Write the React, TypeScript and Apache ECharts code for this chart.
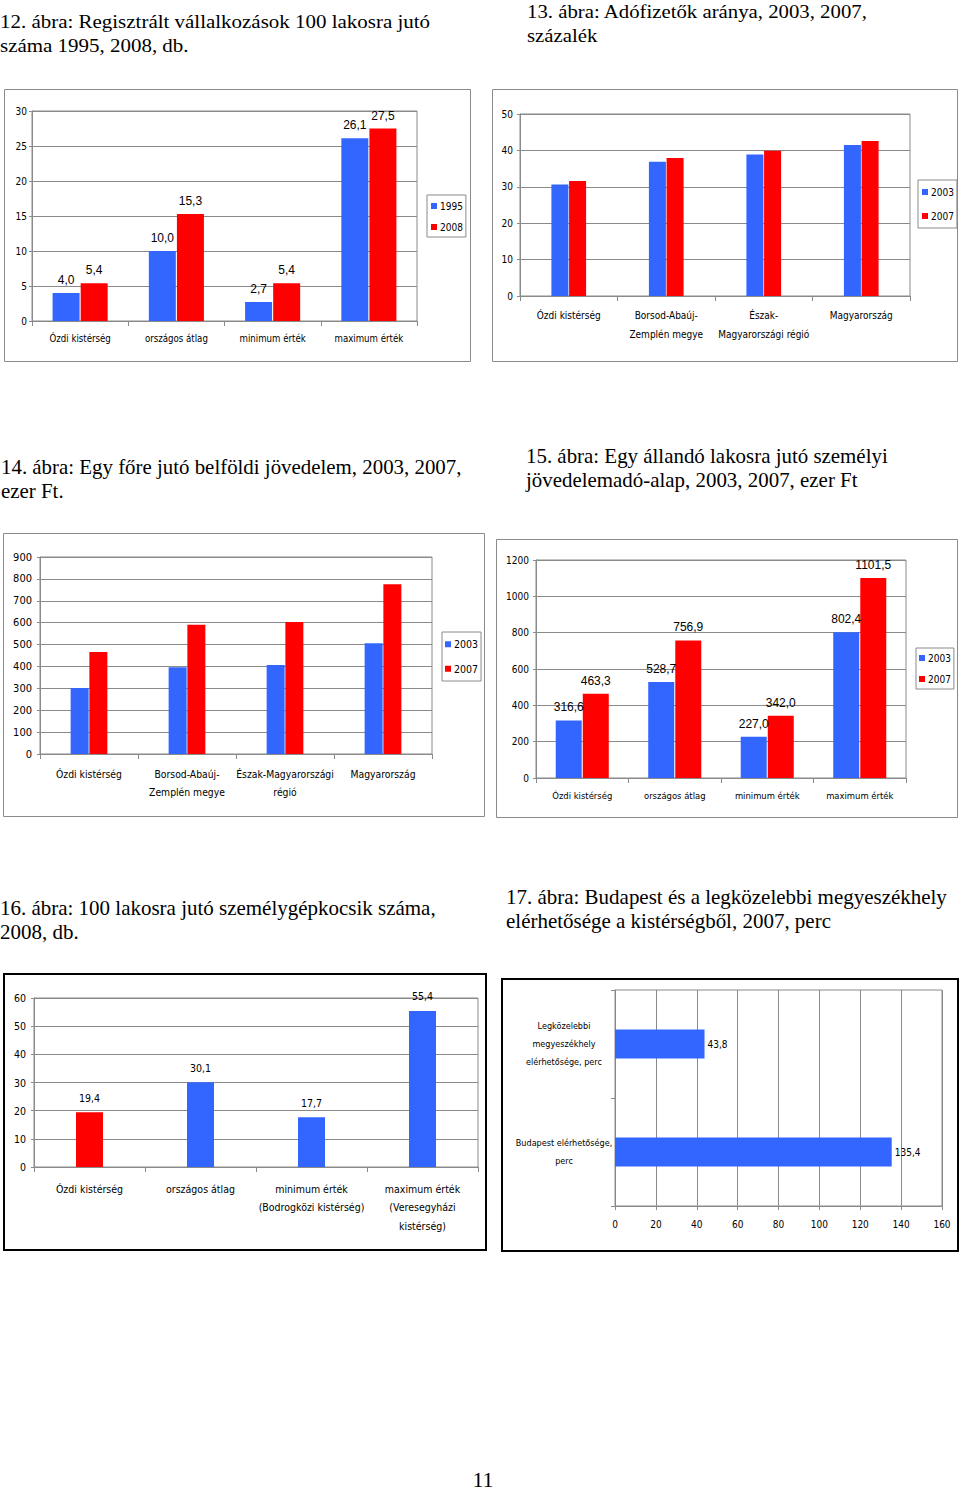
import React, { useEffect, useRef } from 'react';
import * as echarts from 'echarts';

// ---------- data ----------
const c12Categories = ['Ózdi kistérség', 'országos átlag', 'minimum érték', 'maximum érték'];
const c12Values1995 = [4.0, 10.0, 2.7, 26.1];
const c12Values2008 = [5.4, 15.3, 5.4, 27.5];

const c13Categories = ['Ózdi kistérség', 'Borsod-Abaúj-\nZemplén megye', 'Észak-\nMagyarországi régió', 'Magyarország'];
const c13Values2003 = [30.6, 36.9, 38.9, 41.5];
const c13Values2007 = [31.6, 37.9, 39.9, 42.6];

const c14Categories = ['Ózdi kistérség', 'Borsod-Abaúj-\nZemplén megye', 'Észak-Magyarországi\nrégió', 'Magyarország'];
const c14Values2003 = [301, 396, 407, 506];
const c14Values2007 = [466, 591, 603, 775];

const c15Categories = ['Ózdi kistérség', 'országos átlag', 'minimum érték', 'maximum érték'];
const c15Values2003 = [316.6, 528.7, 227.0, 802.4];
const c15Values2007 = [463.3, 756.9, 342.0, 1101.5];

const c16Categories = ['Ózdi kistérség', 'országos átlag', 'minimum érték\n(Bodrogközi kistérség)', 'maximum érték\n(Veresegyházi\nkistérség)'];
const c16Values = [19.4, 30.1, 17.7, 55.4];

const c17Categories = ['Legközelebbi\nmegyeszékhely\nelérhetősége, perc', 'Budapest elérhetősége,\nperc'];
const c17Values = [43.8, 135.4];

const titles12 = ['12. ábra: Regisztrált vállalkozások 100 lakosra jutó', 'száma 1995, 2008, db.'];
const titles13 = ['13. ábra: Adófizetők aránya, 2003, 2007,', 'százalék'];
const titles14 = ['14. ábra: Egy főre jutó belföldi jövedelem, 2003, 2007,', 'ezer Ft.'];
const titles15 = ['15. ábra: Egy állandó lakosra jutó személyi', 'jövedelemadó-alap, 2003, 2007, ezer Ft'];
const titles16 = ['16. ábra: 100 lakosra jutó személygépkocsik száma,', '2008, db.'];
const titles17 = ['17. ábra: Budapest és a legközelebbi megyeszékhely', 'elérhetősége a kistérségből, 2007, perc'];
const pageNumber = '11';

// ---------- styles ----------
const NARROW = '"DejaVu Sans Condensed", "Liberation Sans Narrow", sans-serif';
const SANS = '"Liberation Sans", Arial, sans-serif';
const SERIF = '"Liberation Serif", "Times New Roman", serif';
const GRAY = '#8a8a8a';
const BLUE = '#3366ff';
const RED = '#ff0000';

const fmt = (v: number) => v.toFixed(1).replace('.', ',');

function measure(text: string, size: number, family: string) {
  const c = document.createElement('canvas').getContext('2d');
  if (!c) return text.length * size * 0.45;
  c.font = `${size}px ${family}`;
  return c.measureText(text).width;
}

function titleBlock(lines: string[], x: number, y: number, size: number, targetWidth: number, lineGap: number) {
  const w = measure(lines[0], size, SERIF);
  const sx = targetWidth / w;
  return lines.map((t, i) => ({
    type: 'text',
    x,
    y: y + i * lineGap,
    scaleX: sx,
    style: { text: t, fontSize: size, fontFamily: SERIF, fill: '#000', verticalAlign: 'middle', align: 'left' },
  }));
}

function frame(x: number, y: number, w: number, h: number, color: string, lw: number) {
  return { type: 'rect', shape: { x, y, width: w, height: h }, style: { fill: 'none', stroke: color, lineWidth: lw }, z: 0 };
}

function catAxis(gridIndex: number, data: string[], fontSize: number, margin: number, lineHeight: number) {
  return {
    type: 'category', gridIndex, data,
    axisLine: { show: true, lineStyle: { color: GRAY } },
    axisTick: { show: true, length: 5, lineStyle: { color: GRAY } },
    axisLabel: { color: '#000', fontFamily: NARROW, fontSize, margin, lineHeight, interval: 0 },
    splitLine: { show: false },
  };
}

function valAxis(gridIndex: number, max: number, interval: number, fontSize: number, margin: number) {
  return {
    type: 'value', gridIndex, min: 0, max, interval,
    axisLine: { show: true, lineStyle: { color: GRAY } },
    axisTick: { show: true, length: 3, lineStyle: { color: GRAY } },
    axisLabel: { color: '#000', fontFamily: NARROW, fontSize, margin, formatter: (v: number) => String(v) },
    splitLine: { show: true, lineStyle: { color: GRAY, width: 1 } },
  };
}

function legend(left: number, top: number, names: string[], fontSize: number, itemGap: number, padding: number[]) {
  return {
    left, top, orient: 'vertical', data: names, itemWidth: 6, itemHeight: 6, itemGap, padding,
    borderColor: GRAY, borderWidth: 1, icon: 'rect', selectedMode: false,
    textStyle: { fontFamily: NARROW, fontSize, color: '#000', padding: [0, 0, 0, -2] },
  };
}

function bar(name: string, idx: number, data: any[], color: string, barWidth: number, labels: any) {
  return {
    type: 'bar', name, xAxisIndex: idx, yAxisIndex: idx, data, barWidth, barGap: '4%',
    itemStyle: { color },
    label: labels ? { show: true, position: 'top', color: '#000', formatter: (p: any) => fmt(p.value), ...labels } : { show: false },
  };
}

export default function App() {
  const ref = useRef<HTMLDivElement>(null);
  useEffect(() => {
    if (!ref.current) return;
    const chart = echarts.init(ref.current, undefined, { renderer: 'svg' });

    const grids = [
      { left: 32, top: 111, width: 385, height: 210 },
      { left: 520, top: 114, width: 390, height: 182 },
      { left: 40, top: 557, width: 392, height: 197 },
      { left: 536, top: 560, width: 370, height: 218 },
      { left: 34, top: 998, width: 444, height: 169 },
      { left: 615, top: 990, width: 327, height: 216 },
    ].map((g) => ({ ...g, show: true, borderColor: GRAY, borderWidth: 1, backgroundColor: 'transparent' }));

    const lbl12 = { fontFamily: SANS, fontSize: 12, distance: 7 };
    const lbl15 = { fontFamily: SANS, fontSize: 12, distance: 7 };
    const lbl16 = { fontFamily: NARROW, fontSize: 10.5, distance: 9 };

    const c17X = {
      type: 'value', gridIndex: 5, min: 0, max: 160, interval: 20,
      axisLine: { show: true, lineStyle: { color: GRAY } },
      axisTick: { show: true, length: 4, lineStyle: { color: GRAY } },
      axisLabel: { color: '#000', fontFamily: NARROW, fontSize: 10, margin: 13 },
      splitLine: { show: true, lineStyle: { color: GRAY } },
    };
    const c17Y = {
      type: 'category', gridIndex: 5, data: c17Categories, inverse: true,
      axisLine: { show: true, lineStyle: { color: GRAY } },
      axisTick: { show: true, length: 4, lineStyle: { color: GRAY } },
      axisLabel: { color: '#000', fontFamily: NARROW, fontSize: 9, lineHeight: 18, align: 'center', margin: 51, interval: 0 },
    };

    const option: any = {
      animation: false,
      backgroundColor: '#fff',
      grid: grids,
      xAxis: [
        catAxis(0, c12Categories, 9.6, 10, 14),
        catAxis(1, c13Categories, 10, 10, 19),
        catAxis(2, c14Categories, 10.3, 10.5, 18),
        catAxis(3, c15Categories, 9.4, 10, 14),
        catAxis(4, c16Categories, 10.5, 12.5, 18.5),
        c17X,
      ],
      yAxis: [
        valAxis(0, 30, 5, 10, 5),
        valAxis(1, 50, 10, 10, 7),
        valAxis(2, 900, 100, 11, 8),
        valAxis(3, 1200, 200, 10, 7),
        valAxis(4, 60, 10, 10.5, 8),
        c17Y,
      ],
      legend: [
        legend(427, 195, ['1995', '2008'], 10, 11, [6, 3, 5, 4]),
        legend(918, 180, ['2003', '2007'], 10, 14, [7, 3, 7, 4]),
        legend(442, 632, ['2003', '2007'], 10.5, 13.5, [6.75, 3, 6.75, 3]),
        legend(916, 648, ['2003', '2007'], 10, 11, [5, 3, 5, 3]),
      ],
      series: [
        bar('1995', 0, c12Values1995, BLUE, 27, lbl12),
        bar('2008', 0, c12Values2008, RED, 27, lbl12),
        bar('2003', 1, c13Values2003, BLUE, 17, null),
        bar('2007', 1, c13Values2007, RED, 17, null),
        bar('2003', 2, c14Values2003, BLUE, 18, null),
        bar('2007', 2, c14Values2007, RED, 18, null),
        bar('2003', 3, c15Values2003, BLUE, 26, lbl15),
        bar('2007', 3, c15Values2007, RED, 26, lbl15),
        bar('2008', 4, c16Values.map((v, i) => ({ value: v, itemStyle: { color: i === 0 ? RED : BLUE } })), BLUE, 27, lbl16),
        {
          type: 'bar', name: 'perc', xAxisIndex: 5, yAxisIndex: 5, data: c17Values, barWidth: 29,
          itemStyle: { color: BLUE },
          label: { show: true, position: 'right', distance: 3, color: '#000', fontFamily: NARROW, fontSize: 10, formatter: (p: any) => fmt(p.value) },
        },
      ],
      graphic: [
        frame(4.5, 89.5, 466, 272, GRAY, 1),
        frame(492.5, 89.5, 465, 272, GRAY, 1),
        frame(3.5, 533.5, 481, 283, GRAY, 1),
        frame(496.5, 539.5, 461, 278, GRAY, 1),
        frame(4, 974, 482, 276, '#000', 2),
        frame(502, 979, 456, 272, '#000', 2),
        ...titleBlock(titles12, 0, 21, 19, 430, 24),
        ...titleBlock(titles13, 527, 11, 19, 341, 24),
        ...titleBlock(titles14, 1, 467, 22, 461, 24),
        ...titleBlock(titles15, 526, 456, 22, 362, 24),
        ...titleBlock(titles16, 0, 908, 22, 436, 24),
        ...titleBlock(titles17, 506, 897, 22, 441, 24),
        {
          type: 'text', x: 483, y: 1479,
          style: { text: pageNumber, fontSize: 22, fontFamily: SERIF, fill: '#000', align: 'center', verticalAlign: 'middle' },
        },
      ],
    };
    chart.setOption(option);
    return () => chart.dispose();
  }, []);
  return <div ref={ref} style={{ position: 'absolute', left: 0, top: 0, width: 960, height: 1492 }} />;
}
